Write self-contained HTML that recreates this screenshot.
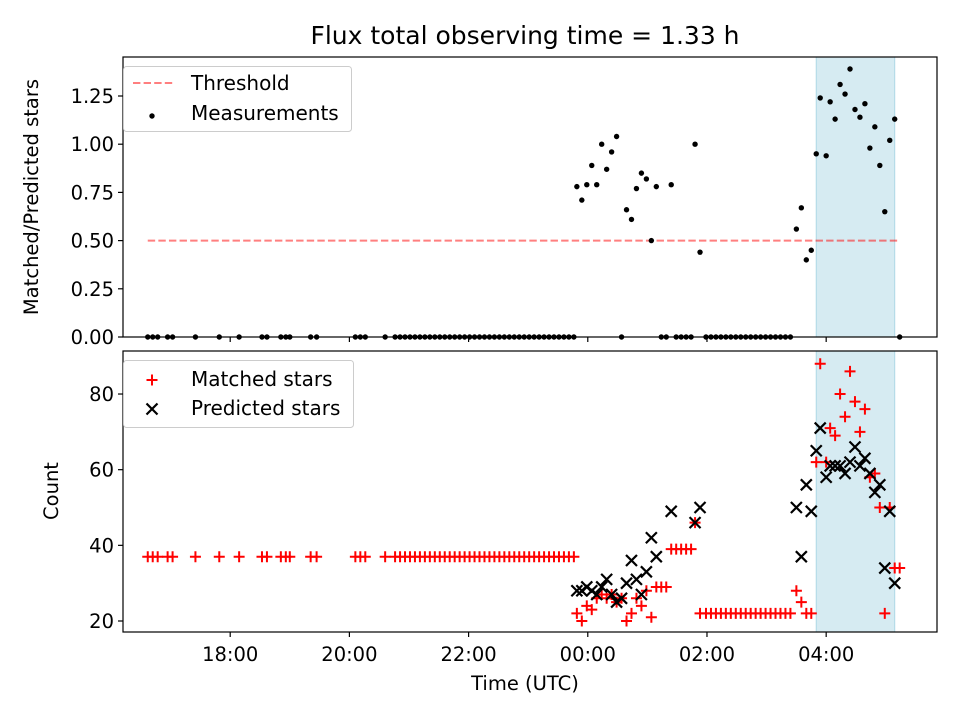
<!DOCTYPE html>
<html><head><meta charset="utf-8"><style>
body{margin:0;background:#fff;}
svg{display:block;font-family:"DejaVu Sans","Liberation Sans",sans-serif;}
</style></head><body>
<svg id="chart" width="960" height="720" viewBox="0 0 960 720"></svg>
<script>
// minutes since 16:00 UTC
const times=[37,42,47,57,62,85,109,129,152,157,171,176,180,201,207,246,251,256,276,
286,291,296,301,306,311,316,321,326,331,336,341,346,351,356,361,366,371,376,381,386,391,396,401,406,411,416,421,426,431,436,441,446,451,456,461,466,
469,474,479,484,489,494,499,504,509,514,519,524,529,534,539,544,549,554,559,564,569,574,579,584,588,593,
599,604,609,614,619,624,629,634,639,644,649,654,659,664,669,674,679,684,
690,695,700,705,710,714,720,724,729,734,739,744,749,754,759,764,769,774,779,784,789,794];
const matched=[37,37,37,37,37,37,37,37,37,37,37,37,37,37,37,37,37,37,37,
37,37,37,37,37,37,37,37,37,37,37,37,37,37,37,37,37,37,37,37,37,37,37,37,37,37,37,37,37,37,37,37,37,37,37,37,37,
22,20,24,23,26,27,26,27,25,26,20,22,26,24,28,21,29,29,29,39,39,39,39,39,46,22,
22,22,22,22,22,22,22,22,22,22,22,22,22,22,22,22,22,22,
28,25,22,22,62,88,62,71,69,80,74,86,78,70,76,58,59,50,22,50,34,34];
const predicted=[null,null,null,null,null,null,null,null,null,null,null,null,null,null,null,null,null,null,null,
null,null,null,null,null,null,null,null,null,null,null,null,null,null,null,null,null,null,null,null,null,null,null,null,null,null,null,null,null,null,null,null,null,null,null,null,null,
28,28,29,28,27,29,31,27,25,26,30,36,31,27,33,42,37,null,null,49,null,null,null,null,46,50,
null,null,null,null,null,null,null,null,null,null,null,null,null,null,null,null,null,null,
50,37,56,49,65,71,58,61,61,61,59,62,66,61,63,59,54,56,34,49,30,null];
const ratio=[0,0,0,0,0,0,0,0,0,0,0,0,0,0,0,0,0,0,0,
0,0,0,0,0,0,0,0,0,0,0,0,0,0,0,0,0,0,0,0,0,0,0,0,0,0,0,0,0,0,0,0,0,0,0,0,0,
0.78,0.71,0.79,0.89,0.79,1.0,0.87,0.96,1.04,0,0.66,0.61,0.77,0.85,0.82,0.50,0.78,0,0,0.79,0,0,0,0,1.0,0.44,
0,0,0,0,0,0,0,0,0,0,0,0,0,0,0,0,0,0,
0.56,0.67,0.40,0.45,0.95,1.24,0.94,1.22,1.13,1.31,1.26,1.39,1.18,1.14,1.21,0.98,1.09,0.89,0.65,1.02,1.13,0];
const threshold=0.5, thrStart=37, thrEnd=794;
const spanStart=710, spanEnd=789;
const xTickMins=[120,240,360,480,600,720];
const xTickLabels=["18:00","20:00","22:00","00:00","02:00","04:00"];
const topTicks=[0,0.25,0.5,0.75,1.0,1.25];
const topTickLabels=["0.00","0.25","0.50","0.75","1.00","1.25"];
const botTicks=[20,40,60,80];

const NS="http://www.w3.org/2000/svg";
const svg=document.getElementById('chart');
function mk(tag,attrs,parent,text){const e=document.createElementNS(NS,tag);for(const k in attrs)e.setAttribute(k,attrs[k]);if(text!==undefined)e.textContent=text;(parent||svg).appendChild(e);return e;}
const L=123,R=937,T1=57,B1=337,T2=351,B2=632;
const FS=19.5, LFS=20, TFS=25;
const X=m=>111+m*0.9933;
const Y1=v=>B1-v*192.8;
const Y2=v=>621-(v-20)*3.783;

let e;
e=mk('text',{x:525,y:44,'text-anchor':'middle','font-size':TFS},svg,'Flux total observing time = 1.33 h');



[[T1,B1],[T2,B2]].forEach((p,i)=>{
 e=mk('rect',{x:X(spanStart),y:p[0],width:X(spanEnd)-X(spanStart),height:p[1]-p[0],fill:'#add8e6','fill-opacity':0.5,stroke:'#add8e6'});
 
 
});

e=mk('line',{x1:X(thrStart),x2:X(thrEnd),y1:Y1(threshold),y2:Y1(threshold),stroke:'#ff0000','stroke-opacity':0.5,'stroke-width':2,'stroke-dasharray':'7.4,3.2'});



const gm=mk('g',{});


times.forEach((t,i)=>{
 const c=mk('circle',{cx:X(t),cy:Y1(ratio[i]),r:2.7,fill:'#000'},gm);
 
 
});

const gr=mk('g',{stroke:'#ff0000','stroke-width':2});


times.forEach((t,i)=>{
 const x=X(t),y=Y2(matched[i]);
 const p=mk('path',{d:`M${x-5.5},${y}H${x+5.5}M${x},${y-5.5}V${y+5.5}`},gr);
 
 
});
const gp=mk('g',{stroke:'#000','stroke-width':2.2});


times.forEach((t,i)=>{
 if(predicted[i]===null)return;
 const x=X(t),y=Y2(predicted[i]),s=5.5;
 const p=mk('path',{d:`M${x-s},${y-s}L${x+s},${y+s}M${x-s},${y+s}L${x+s},${y-s}`},gp);
 
 
});

[[T1,B1,'top-axes-frame'],[T2,B2,'bottom-axes-frame']].forEach(p=>{
 e=mk('rect',{x:L,y:p[0],width:R-L,height:p[1]-p[0],fill:'none',stroke:'#000','stroke-width':1.2});
 
 
});

xTickMins.forEach((m,i)=>{
 const x=X(m);
 mk('line',{x1:x,x2:x,y1:B1,y2:B1+5,stroke:'#000','stroke-width':1.2});
 mk('line',{x1:x,x2:x,y1:B2,y2:B2+5,stroke:'#000','stroke-width':1.2});
 e=mk('text',{x:x,y:B2+29,'text-anchor':'middle','font-size':FS},svg,xTickLabels[i]);
 
 
});
topTicks.forEach((v,i)=>{
 const y=Y1(v);
 mk('line',{x1:L-5,x2:L,y1:y,y2:y,stroke:'#000','stroke-width':1.2});
 e=mk('text',{x:L-9,y:y+7,'text-anchor':'end','font-size':FS},svg,topTickLabels[i]);
 
 
});
botTicks.forEach(v=>{
 const y=Y2(v);
 mk('line',{x1:L-5,x2:L,y1:y,y2:y,stroke:'#000','stroke-width':1.2});
 e=mk('text',{x:L-9,y:y+7,'text-anchor':'end','font-size':FS},svg,String(v));
 
 
});
e=mk('text',{x:525,y:690,'text-anchor':'middle','font-size':FS},svg,'Time (UTC)');


e=mk('text',{x:0,y:0,'text-anchor':'middle','font-size':FS,transform:'translate(38,197) rotate(-90)'},svg,'Matched/Predicted stars');


e=mk('text',{x:0,y:0,'text-anchor':'middle','font-size':FS,transform:'translate(58,491) rotate(-90)'},svg,'Count');



const lg1=mk('g',{});


mk('rect',{x:123.5,y:66.5,width:228,height:65,rx:3,fill:'#fff','fill-opacity':0.8,stroke:'#ccc'},lg1);
mk('line',{x1:133,x2:173,y1:83,y2:83,stroke:'#ff0000','stroke-opacity':0.5,'stroke-width':2,'stroke-dasharray':'7.4,3.2'},lg1);
e=mk('text',{x:191,y:90,'font-size':LFS},lg1,'Threshold');


mk('circle',{cx:152,cy:116,r:2.7,fill:'#000'},lg1);
e=mk('text',{x:191,y:120,'font-size':LFS},lg1,'Measurements');



const lg2=mk('g',{});


mk('rect',{x:123.5,y:360.5,width:230,height:67,rx:3,fill:'#fff','fill-opacity':0.8,stroke:'#ccc'},lg2);
mk('path',{d:'M146.5,380H157.5M152,374.5V385.5',stroke:'#ff0000','stroke-width':2},lg2);
e=mk('text',{x:191,y:386,'font-size':LFS},lg2,'Matched stars');


mk('path',{d:'M146.5,403.5L157.5,414.5M146.5,414.5L157.5,403.5',stroke:'#000','stroke-width':2.2},lg2);
e=mk('text',{x:191,y:415,'font-size':LFS},lg2,'Predicted stars');


</script>
</body></html>
